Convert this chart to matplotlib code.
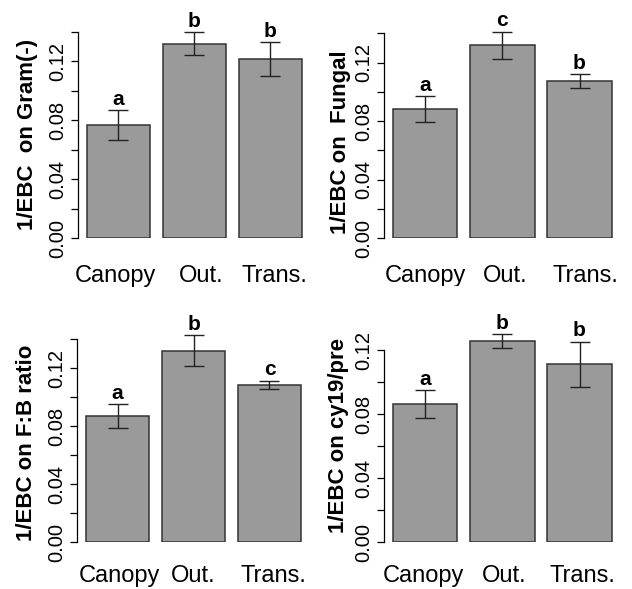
import matplotlib
matplotlib.use("Agg")
import matplotlib.pyplot as plt
import matplotlib.transforms as mtransforms
import numpy as np

plt.rcParams["font.family"] = ["Liberation Sans", "DejaVu Sans"]

# ---- data ----
groups = ["Canopy", "Out.", "Trans."]

gram_mean = [0.0766, 0.1318, 0.1215]
gram_se = [0.0100, 0.0077, 0.0114]
gram_letters = ["a", "b", "b"]

fungal_mean = [0.0883, 0.1320, 0.1074]
fungal_se = [0.0088, 0.0092, 0.0048]
fungal_letters = ["a", "c", "b"]

fb_mean = [0.0871, 0.1322, 0.1087]
fb_se = [0.0083, 0.0107, 0.0027]
fb_letters = ["a", "b", "c"]

cy_mean = [0.0865, 0.1258, 0.1112]
cy_se = [0.0085, 0.0044, 0.0142]
cy_letters = ["a", "b", "b"]

ylabels = ["1/EBC  on Gram(-)", "1/EBC on  Fungal",
           "1/EBC on F:B ratio", "1/EBC on cy19/pre"]
ytick_max = [0.14, 0.14, 0.14, 0.12]

# ---- layout (pixels in a 632x589 canvas) ----
W, H = 632, 589
BAR_C, EDGE_C = "#9a9a9a", "#333333"
# spine x, y of zero, px per x unit, px per 0.01, label right edge,
# label centre value, x label pad, x label shifts
layout = [
    dict(sx=78, y0=238.3, px=63.3, py=14.76, lab=38, lc=0.0707, pad=19, shift=[-3, 7, 4]),
    dict(sx=384.3, y0=238.3, px=64.3, py=14.64, lab=351, lc=0.0654, pad=19, shift=[0, 3, 6]),
    dict(sx=77.3, y0=542.3, px=63.3, py=14.50, lab=37, lc=0.0688, pad=16, shift=[2, 0, 4]),
    dict(sx=384.3, y0=542.3, px=64.3, py=16.0, lab=349, lc=0.0670, pad=16, shift=[-2, 2, 3]),
]

fig = plt.figure(figsize=(W / 100, H / 100), dpi=100)

means = [gram_mean, fungal_mean, fb_mean, cy_mean]
ses = [gram_se, fungal_se, fb_se, cy_se]
letters = [gram_letters, fungal_letters, fb_letters, cy_letters]

x = 0.7 + 1.2 * np.arange(len(groups))   # R barplot positions (width 1, space 0.2)
XL = (0.064, 3.736)
YTOP = 0.16

for i, L in enumerate(layout):
    width = (XL[1] - XL[0]) * L["px"]
    height = YTOP * 100 * L["py"]
    ax = fig.add_axes([L["sx"] / W, (H - L["y0"]) / H, width / W, height / H])
    ax.set_xlim(*XL)
    ax.set_ylim(0, YTOP)

    ax.bar(x, means[i], width=1.0, color=BAR_C, edgecolor=EDGE_C, linewidth=1.1)
    ax.errorbar(x, means[i], yerr=ses[i], fmt="none", ecolor="#222222",
                elinewidth=1.0, capsize=7.5, capthick=1.0)
    for xi, m, s, let in zip(x, means[i], ses[i], letters[i]):
        ax.annotate(let, (xi, m + s), xytext=(0, 1), textcoords="offset points",
                    ha="center", va="bottom", fontsize=15, fontweight="bold")

    # R-like axes: only a left axis, no box
    for s in ("top", "right", "bottom"):
        ax.spines[s].set_visible(False)
    ax.spines["left"].set_bounds(0, ytick_max[i])
    ax.spines["left"].set_linewidth(0.9)
    ticks = np.round(np.arange(0, ytick_max[i] + 1e-9, 0.02), 2)
    ax.set_yticks(ticks)
    ax.set_yticklabels([f"{t:.2f}" if round(t * 100) % 4 == 0 else "" for t in ticks],
                       rotation=90, va="center")
    ax.tick_params(axis="y", length=5, width=0.9, pad=3, labelsize=14.5)

    ax.set_xticks(x)
    ax.set_xticklabels(groups)
    ax.tick_params(axis="x", length=0, pad=L["pad"], labelsize=17)
    for lbl, dx in zip(ax.get_xticklabels(), L["shift"]):
        lbl.set_transform(lbl.get_transform() +
                          mtransforms.ScaledTranslation(dx / 100, 0, fig.dpi_scale_trans))

    ax.set_ylabel(ylabels[i], fontsize=16, fontweight="bold")
    ax.yaxis.set_label_coords((L["lab"] - L["sx"]) / width, L["lc"] / YTOP)

fig.savefig("out.png", dpi=100, facecolor="white")
